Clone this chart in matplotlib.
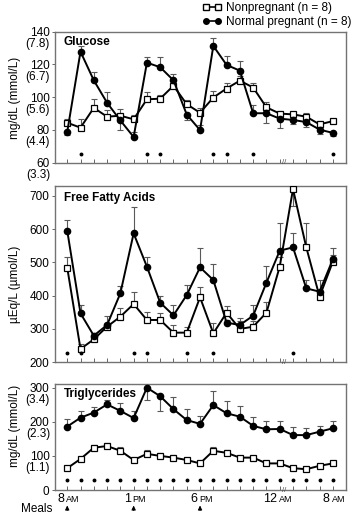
import numpy as np
import matplotlib
matplotlib.use("Agg")
import matplotlib.pyplot as plt
from matplotlib.lines import Line2D

plt.rcParams['font.family'] = ['Liberation Sans', 'DejaVu Sans']

# x positions: hourly 8 AM .. 12 AM, then every 2 h to 8 AM
n_pts = 21
time_labels = [(0, '8', 'AM'), (5, '1', 'PM'), (10, '6', 'PM'), (16, '12', 'AM'), (20, '8', 'AM')]
meal_idx = [0, 5, 10]

# Glucose, mg/dL  (signed error: + drawn up, - drawn down)
glu_np = [84.4, 81.4, 93.5, 88.1, 88.7, 86.5, 98.7, 99.1, 107.0, 95.7, 90.5,
          99.8, 105.3, 110.1, 105.9, 93.8, 90.0, 89.5, 88.1, 83.4, 85.4]
glu_np_err = [2.5, 5, 5.5, 4, 4, 2.4, 4.2, 2, 3.9, 2.5, 2.8,
              4, 3.6, 2.8, 3, 3, 1.5, 1.5, 2, 2, 1.5]
glu_p = [78.8, 127.8, 110.3, 96.6, 85.8, 75.7, 121.1, 118.3, 110.3, 89.4, 79.9,
         131.3, 119.7, 116.2, 90.2, 90.2, 86.9, 86.1, 84.8, 80.2, 78.2]
glu_p_err = [-2, 3.3, 5, 6.3, -6, 3, 3.3, 6.5, 4, -3.5, 3,
             5, 5.5, 6, 5, -6, -6, -2.5, -3, -2.5, -2]
glu_sig = [1, 6, 7, 11, 12, 14, 20]

# Free fatty acids, uEq/L
ffa_np = [484, 240, 269, 307, 337, 375, 327, 327, 289, 289, 395,
          287, 349, 300, 307, 349, 487, 720, 545, 397, 502]
ffa_np_err = [31, 15, 10, 12, 25, 35, 25, 22, 23, 18, 32,
              30, 21, 25, 18, 33, 30, -50, 72, 15, 20]
ffa_p = [595, 347, 280, 312, 407, 587, 487, 379, 341, 402, 485,
         447, 319, 312, 340, 439, 535, 545, 422, 412, 509]
ffa_p_err = [32, 25, 8, 27, 22, 78, 28, 20, 31, 30, 57,
             48, 8, 20, 32, 50, 84, 44, 25, 35, 35]
ffa_sig = [0, 1, 5, 6, 9, 11, 17]

# Triglycerides, mg/dL
tg_np = [64, 91, 124, 129, 115, 88, 106, 100, 95, 88, 78,
         115, 109, 95, 95, 78, 78, 64, 61, 71, 78]
tg_np_err = [5, 6, 8, 10, 10, 5, 10, 8, 8, 5, 5,
             12, 7, 5, 5, 4, 4, 4, 4, 4, 4]
tg_p = [186, 212, 227, 251, 232, 211, 300, 275, 237, 205, 194,
        249, 225, 215, 188, 178, 179, 161, 161, 171, 181]
tg_p_err = [22, 20, 15, 13, 22, 22, -37, -43, 35, 32, 22,
            40, 37, 32, 27, 25, 23, 25, 22, 17, 21]
tg_sig = list(range(21))

panels = [
    dict(title='Glucose', np=glu_np, np_err=glu_np_err, p=glu_p, p_err=glu_p_err,
         sig=glu_sig, sig_y=0.066, ylim=(60, 140), ticks=[60, 80, 100, 120, 140],
         mmol=['(3.3)', '(4.4)', '(5.6)', '(6.7)', '(7.8)'],
         rect=[0.1554, 0.6853, 0.8216, 0.2534], ylab='mg/dL (mmol/L)', ylab_y=98),
    dict(title='Free Fatty Acids', np=ffa_np, np_err=ffa_np_err, p=ffa_p, p_err=ffa_p_err,
         sig=ffa_sig, sig_y=0.053, ylim=(200, 730), ticks=[200, 300, 400, 500, 600, 700],
         mmol=None,
         rect=[0.1554, 0.2992, 0.8216, 0.3416], ylab='\u00b5Eq/L (\u00b5mol/L)', ylab_y=284),
    dict(title='Triglycerides', np=tg_np, np_err=tg_np_err, p=tg_p, p_err=tg_p_err,
         sig=tg_sig, sig_y=0.094, ylim=(0, 310), ticks=[0, 100, 200, 300],
         mmol=[None, '(1.1)', '(2.3)', '(3.4)'],
         rect=[0.1554, 0.0522, 0.8216, 0.2045], ylab='mg/dL (mmol/L)', ylab_y=426),
]

W, H = 354, 517
fig = plt.figure(figsize=(W / 100, H / 100), dpi=100)
x = np.arange(n_pts)


def draw_err(ax, xs, ys, errs):
    ys = np.array(ys, float)
    errs = np.array(errs, float)
    up = np.where(errs > 0, errs, 0)
    dn = np.where(errs < 0, -errs, 0)
    ax.errorbar(xs, ys, yerr=[dn, up], fmt='none', ecolor='0.35',
                elinewidth=0.8, capsize=2, capthick=0.8, zorder=2)


axes = []
for pdef in panels:
    ax = fig.add_axes(pdef['rect'])
    axes.append(ax)
    draw_err(ax, x, pdef['np'], pdef['np_err'])
    draw_err(ax, x, pdef['p'], pdef['p_err'])
    ax.plot(x, pdef['np'], '-', color='black', lw=1.4, marker='s', ms=5,
            mfc='white', mec='black', mew=0.9, zorder=3)
    ax.plot(x, pdef['p'], '-', color='black', lw=1.4, marker='o', ms=4.5,
            mfc='black', mec='black', zorder=4)

    ax.plot(pdef['sig'], [pdef['sig_y']] * len(pdef['sig']), 'o', color='black', ms=1.8,
            transform=ax.get_xaxis_transform(), zorder=5)

    ax.set_xlim(-0.92, 20.98)
    ax.set_ylim(*pdef['ylim'])
    ax.set_xticks(x)
    ax.set_xticklabels([])
    ax.tick_params(axis='x', direction='in', length=3, width=0.7, color='0.4')
    ax.set_yticks(pdef['ticks'])
    ax.set_yticklabels([str(t) for t in pdef['ticks']], fontsize=8.5)
    ax.tick_params(axis='y', direction='out', length=2.5, width=0.7, color='0.4', pad=1.5)
    for s in ax.spines.values():
        s.set_color('0.45')
        s.set_linewidth(1.0)

    if pdef['mmol']:
        for t, lab in zip(pdef['ticks'], pdef['mmol']):
            if lab is None:
                continue
            ax.annotate(lab, xy=(0, t), xycoords=ax.get_yaxis_transform(),
                        xytext=(-3.6, -9), textcoords='offset points',
                        ha='right', va='center', fontsize=8.5, annotation_clip=False)

    ax.text(0.03, 0.965, pdef['title'], transform=ax.transAxes, ha='left', va='top',
            fontsize=8.5, fontweight='bold')
    fig.text(15 / W, 1 - pdef['ylab_y'] / H, pdef['ylab'], rotation=90,
             ha='center', va='center', fontsize=8.5)

    # axis break on the time axis after midnight
    ax.text(16.35, 0, '//', transform=ax.get_xaxis_transform(), ha='center', va='center',
            fontsize=5.5, color='0.3')

# time labels and meal arrows under the bottom panel
ax3 = axes[-1]
for idx, num, suf in time_labels:
    ax3.annotate(num, xy=(idx, -0.085), xycoords=ax3.get_xaxis_transform(),
                 xytext=(-2.2, 0), textcoords='offset points', ha='right', va='center',
                 fontsize=9, annotation_clip=False)
    ax3.annotate(suf, xy=(idx, -0.085), xycoords=ax3.get_xaxis_transform(),
                 xytext=(-0.7, -0.3), textcoords='offset points', ha='left', va='center',
                 fontsize=6.5, annotation_clip=False)
for idx in meal_idx:
    ax3.annotate('', xy=(idx, -0.12), xycoords=ax3.get_xaxis_transform(),
                 xytext=(idx, -0.22), textcoords=ax3.get_xaxis_transform(),
                 arrowprops=dict(arrowstyle='-|>,head_length=0.25,head_width=0.12',
                                 color='black', lw=0.7), annotation_clip=False)
fig.text(20.5 / W, 1 - 509 / H, 'Meals', ha='left', va='center', fontsize=8.5)

handles = [
    Line2D([], [], color='black', lw=1.2, marker='s', ms=4.5, mfc='white', mec='black'),
    Line2D([], [], color='black', lw=1.2, marker='o', ms=4, mfc='black', mec='black'),
]
fig.legend(handles, ['Nonpregnant (n = 8)', 'Normal pregnant (n = 8)'],
           loc='upper right', bbox_to_anchor=(1.0, 1.0), frameon=False, fontsize=8.5,
           numpoints=2, handlelength=1.6, handletextpad=0.4, labelspacing=0.15,
           borderaxespad=0.1, borderpad=0.1)

fig.savefig('out.png', dpi=100)
